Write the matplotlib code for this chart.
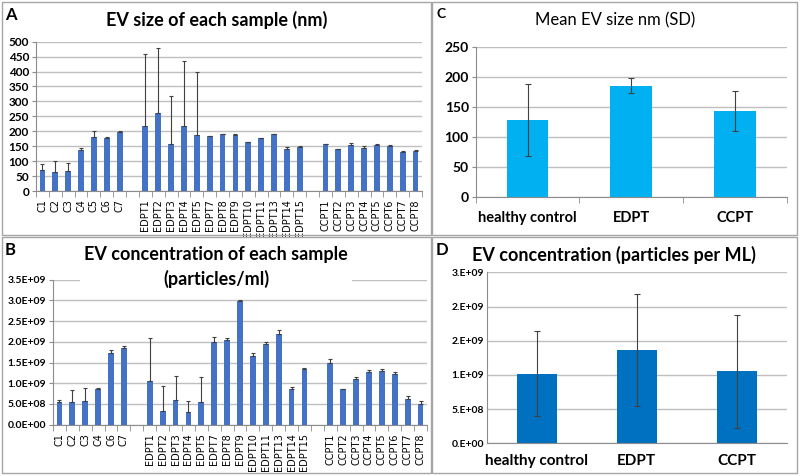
import matplotlib
matplotlib.use('Agg')
import matplotlib.pyplot as plt
from matplotlib.patches import Rectangle
import numpy as np

plt.rcParams['font.family'] = ['Lato', 'DejaVu Sans']

# A: EV size of each sample (nm), '' marks the gap between groups
size_labels = ['C1', 'C2', 'C3', 'C4', 'C5', 'C6', 'C7', '',
               'EDPT1', 'EDPT2', 'EDPT3', 'EDPT4', 'EDPT5', 'EDPT7', 'EDPT8', 'EDPT9',
               'EDPT10', 'EDPT11', 'EDPT13', 'EDPT14', 'EDPT15', '',
               'CCPT1', 'CCPT2', 'CCPT3', 'CCPT4', 'CCPT5', 'CCPT6', 'CCPT7', 'CCPT8']
size_mean = [69, 65, 67, 137, 181, 177, 199, None,
             217, 262, 158, 219, 187, 183, 190, 186, 163, 176, 190, 141, 146, None,
             156, 141, 154, 143, 155, 152, 132, 135]
size_err = [21, 35, 26, 6, 19, 3, 1, None,
            242, 218, 159, 217, 213, 1, 1, 4, 1, 2, 1, 7, 6, None,
            2, 1, 6, 7, 1, 2, 2, 1]

# B: EV concentration of each sample (particles/ml)
conc_labels = ['C1', 'C2', 'C3', 'C4', 'C6', 'C7', '',
               'EDPT1', 'EDPT2', 'EDPT3', 'EDPT4', 'EDPT5', 'EDPT7', 'EDPT8', 'EDPT9',
               'EDPT10', 'EDPT11', 'EDPT13', 'EDPT14', 'EDPT15', '',
               'CCPT1', 'CCPT2', 'CCPT3', 'CCPT4', 'CCPT5', 'CCPT6', 'CCPT7', 'CCPT8']
conc_mean = [0.54e9, 0.55e9, 0.58e9, 0.86e9, 1.74e9, 1.85e9, None,
             1.05e9, 0.34e9, 0.60e9, 0.31e9, 0.54e9, 1.99e9, 2.04e9, 2.99e9,
             1.66e9, 1.95e9, 2.18e9, 0.85e9, 1.34e9, None,
             1.50e9, 0.86e9, 1.11e9, 1.26e9, 1.30e9, 1.22e9, 0.63e9, 0.51e9]
conc_err = [0.06e9, 0.28e9, 0.30e9, 0.02e9, 0.07e9, 0.05e9, None,
            1.04e9, 0.59e9, 0.58e9, 0.26e9, 0.62e9, 0.12e9, 0.06e9, 0.03e9,
            0.06e9, 0.05e9, 0.10e9, 0.05e9, 0.04e9, None,
            0.08e9, 0.01e9, 0.05e9, 0.06e9, 0.05e9, 0.05e9, 0.06e9, 0.06e9]

# C / D: group summaries
groups = ['healthy control', 'EDPT', 'CCPT']
mean_size = [128, 185, 143]
sd_size = [60, 13, 33]
mean_conc = [1.02e9, 1.37e9, 1.05e9]
sd_conc = [0.62e9, 0.82e9, 0.83e9]
conc_ticks = [0, 0.5e9, 1.0e9, 1.5e9, 2.0e9, 2.5e9]
conc_ticklabels = ['0.E+00', '5.E+08', '1.E+09', '2.E+09', '2.E+09', '3.E+09']

grid_c = '#bfbfbf'
axis_c = '#8c8c8c'


def style_axes(ax):
    for s in ['top', 'right']:
        ax.spines[s].set_visible(False)
    ax.spines['left'].set_color(axis_c)
    ax.spines['bottom'].set_color(axis_c)
    ax.grid(axis='y', color=grid_c, lw=1)
    ax.set_axisbelow(True)
    ax.tick_params(axis='y', length=3, color=axis_c, pad=2)


def sample_bars(ax, labels, mean, err, color):
    x = np.arange(len(labels))
    keep = [i for i, m in enumerate(mean) if m is not None]
    h = [mean[i] for i in keep]
    e = [err[i] for i in keep]
    ax.bar(x[keep], h, width=0.45, color=color, zorder=2)
    ax.errorbar(x[keep], h, yerr=[np.zeros(len(e)), e], fmt='none',
                ecolor='#404040', elinewidth=0.8, capsize=1.5, capthick=0.8, zorder=3)
    ax.set_xlim(-0.5, len(labels) - 0.5)
    ax.set_xticks(x)
    ax.set_xticklabels(labels, rotation=90, fontsize=7, family='DejaVu Sans')
    ax.set_xticks(np.arange(len(labels) + 1) - 0.5, minor=True)
    ax.tick_params(axis='x', which='major', length=0, pad=6)
    ax.tick_params(axis='x', which='minor', length=4, color=axis_c)
    style_axes(ax)


fig = plt.figure(figsize=(8, 4.76), dpi=100)

# panel frames
for (x0, y0, x1, y1) in [(2, 2, 431, 235), (2, 237, 431, 473),
                         (432, 2, 797, 235), (432, 237, 797, 473)]:
    fig.add_artist(Rectangle((x0 / 800, 1 - y1 / 476), (x1 - x0) / 800, (y1 - y0) / 476,
                             transform=fig.transFigure, fill=False,
                             edgecolor='#a6a6a6', lw=1))

# A
axA = fig.add_axes([0.045, 0.5987, 0.4825, 0.3137])
sample_bars(axA, size_labels, size_mean, size_err, '#4472c4')
axA.set_ylim(0, 500)
axA.set_yticks(range(0, 501, 50))
for t in axA.get_yticklabels():
    t.set_fontweight('bold')
    t.set_fontsize(8.5)
fig.text(217 / 800, 1 - 20 / 476, 'EV size of each sample (nm)', ha='center', va='center',
         fontsize=13, fontweight='bold')
fig.text(5 / 800, 1 - 15 / 476, 'A', ha='left', va='center', fontsize=12, fontweight='bold')

# B
axB = fig.add_axes([0.06625, 0.1078, 0.4675, 0.3046])
sample_bars(axB, conc_labels, conc_mean, conc_err, '#4472c4')
axB.set_ylim(0, 3.5e9)
axB.set_yticks(np.arange(0, 3.51e9, 0.5e9))
axB.set_yticklabels(['%.1E' % v for v in np.arange(0, 3.51e9, 0.5e9)],
                    fontsize=7.5, fontweight='bold')
fig.text(216 / 800, 1 - 267 / 476, 'EV concentration of each sample\n(particles/ml)',
         ha='center', va='center', fontsize=13, fontweight='bold', linespacing=1.45,
         bbox=dict(facecolor='white', edgecolor='none', pad=3), zorder=5)
fig.text(5 / 800, 1 - 250 / 476, 'B', ha='left', va='center', fontsize=12, fontweight='bold')

# C
axC = fig.add_axes([0.5946, 0.5868, 0.38875, 0.3151])
xg = np.arange(len(groups))
axC.bar(xg, mean_size, width=0.4, color='#00b0f0', zorder=2)
axC.errorbar(xg, mean_size, yerr=sd_size, fmt='none', ecolor='#404040',
             elinewidth=0.8, capsize=2, capthick=0.8, zorder=3)
axC.set_xlim(-0.5, 2.5)
axC.set_ylim(0, 250)
axC.set_yticks(range(0, 251, 50))
axC.set_xticks(xg)
axC.set_xticklabels(groups, fontsize=10.5, fontweight='bold')
axC.set_xticks(np.arange(4) - 0.5, minor=True)
axC.tick_params(axis='x', which='major', length=0, pad=10)
axC.tick_params(axis='x', which='minor', length=4, color=axis_c)
style_axes(axC)
for t in axC.get_yticklabels():
    t.set_fontweight('bold')
    t.set_fontsize(10)
fig.text(615 / 800, 1 - 20 / 476, 'Mean EV size nm (SD)', ha='center', va='center',
         fontsize=12, fontweight='normal')
fig.text(436 / 800, 1 - 14 / 476, 'C', ha='left', va='center', fontsize=10, fontweight='bold')

# D
axD = fig.add_axes([0.6084, 0.0687, 0.375, 0.3592])
axD.bar(xg, mean_conc, width=0.4, color='#0070c0', zorder=2)
axD.errorbar(xg, mean_conc, yerr=sd_conc, fmt='none', ecolor='#404040',
             elinewidth=0.8, capsize=2, capthick=0.8, zorder=3)
axD.set_xlim(-0.5, 2.5)
axD.set_ylim(0, 2.5e9)
axD.set_yticks(conc_ticks)
axD.set_yticklabels(conc_ticklabels, fontsize=7.5, fontweight='bold')
axD.set_xticks(xg)
axD.set_xticklabels(groups, fontsize=11, fontweight='bold')
axD.tick_params(axis='x', length=0, pad=8)
style_axes(axD)
axD.tick_params(axis='y', length=0)
fig.text(614 / 800, 1 - 255 / 476, 'EV concentration (particles per ML)', ha='center',
         va='center', fontsize=13, fontweight='bold')
fig.text(436 / 800, 1 - 250 / 476, 'D', ha='left', va='center', fontsize=12, fontweight='bold')

plt.savefig('out.png', dpi=100)
